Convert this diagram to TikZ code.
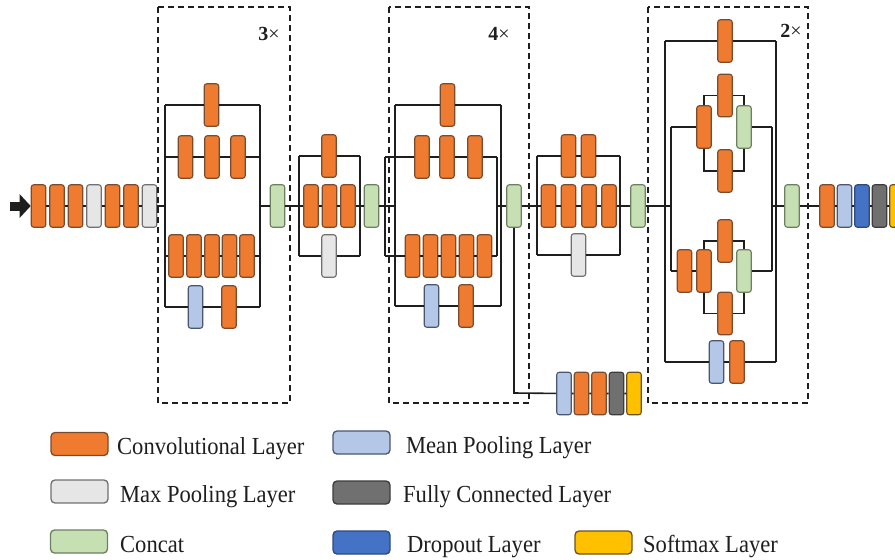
\documentclass[tikz,border=0pt]{standalone}
\usepackage{fontspec}
\setmainfont{Liberation Serif}
\newfontfamily\legendfont[FakeStretch=0.92]{Liberation Serif}
\usetikzlibrary{arrows.meta}

% layer colours: fill / outline
\definecolor{convF}{HTML}{EE7B30}\definecolor{convD}{HTML}{7A4B2C}
\definecolor{maxF}{HTML}{E6E6E6}\definecolor{maxD}{HTML}{707070}
\definecolor{catF}{HTML}{C6E0B4}\definecolor{catD}{HTML}{6C8060}
\definecolor{meanF}{HTML}{B4C7E7}\definecolor{meanD}{HTML}{4A5670}
\definecolor{fcF}{HTML}{707070}\definecolor{fcD}{HTML}{3C3C3C}
\definecolor{dropF}{HTML}{4472C4}\definecolor{dropD}{HTML}{2F4A7A}
\definecolor{softF}{HTML}{FFC000}\definecolor{softD}{HTML}{6A5220}
\definecolor{ink}{HTML}{1E1E1E}

% repetition count: bold digit, light times sign
\newcommand{\reps}[1]{\textbf{#1}×}

\begin{document}
\begin{tikzpicture}[x=1pt,y=-1pt,
  lay/.style={rectangle, rounded corners=2.5pt, minimum width=14.5pt,
    minimum height=42.5pt, inner sep=0pt, line width=1.1pt},
  Lconv/.style={lay, fill=convF, draw=convD},
  Lmax/.style={lay, fill=maxF, draw=maxD},
  Lcat/.style={lay, fill=catF, draw=catD},
  Lmean/.style={lay, fill=meanF, draw=meanD},
  Lfc/.style={lay, fill=fcF, draw=fcD},
  Ldrop/.style={lay, fill=dropF, draw=dropD},
  Lsoft/.style={lay, fill=softF, draw=softD},
  wire/.style={draw=ink, line width=1.6pt},
  grp/.style={draw=ink, line width=1.8pt, dash pattern=on 6pt off 4pt},
  mult/.style={inner sep=0pt, text=ink, font=\fontsize{20}{22}\selectfont},
  key/.style={rectangle, rounded corners=4pt, minimum width=57pt,
    minimum height=23pt, inner sep=0pt, line width=1.3pt},
  keytext/.style={anchor=base west, inner sep=0pt, text=ink,
    font=\legendfont\fontsize{24.5}{28}\selectfont}
]
\useasboundingbox (0,0) rectangle (895,560);

% ---------- stem ----------
\coordinate (inp) at (10,206);
\node[Lconv] (s1) at (38.5,206) {};
\node[Lconv] (s2) at (57,206) {};
\node[Lconv] (s3) at (75.5,206) {};
\node[Lmax]  (s4) at (94,206) {};
\node[Lconv] (s5) at (112.5,206) {};
\node[Lconv] (s6) at (131,206) {};
\node[Lmax]  (s7) at (149.5,206) {};

% ---------- module A (x3) ----------
\draw[grp] (158,7) rectangle (290,403);
\node[mult] (r1) at (269,34) {\reps{3}};
\coordinate (b1tl) at (165,105); \coordinate (b1tr) at (260,105);
\coordinate (b1bl) at (165,307); \coordinate (b1br) at (260,307);
\coordinate (b1l2) at (165,157); \coordinate (b1r2) at (260,157);
\coordinate (b1l3) at (165,256); \coordinate (b1r3) at (260,256);
\coordinate (b1in) at (165,206); \coordinate (b1out) at (260,206);
\node[Lconv] (b1a) at (211.5,105) {};
\node[Lconv] (b1b1) at (185.5,157) {};
\node[Lconv] (b1b2) at (212,157) {};
\node[Lconv] (b1b3) at (238,157) {};
\node[Lconv] (b1c1) at (176,256) {};
\node[Lconv] (b1c2) at (194,256) {};
\node[Lconv] (b1c3) at (212,256) {};
\node[Lconv] (b1c4) at (229.5,256) {};
\node[Lconv] (b1c5) at (247,256) {};
\node[Lmean] (b1d1) at (195.5,307) {};
\node[Lconv] (b1d2) at (229,307) {};
\node[Lcat]  (b1cat) at (277.5,206) {};

% ---------- reduction block ----------
\coordinate (mtl) at (299,156); \coordinate (mtr) at (360,156);
\coordinate (mbl) at (299,256); \coordinate (mbr) at (360,256);
\node[Lconv] (mA) at (329,156) {};
\node[Lconv] (mB1) at (311,206) {};
\node[Lconv] (mB2) at (329.5,206) {};
\node[Lconv] (mB3) at (348,206) {};
\node[Lmax]  (mC) at (329,256) {};
\node[Lcat]  (mcat) at (371.5,206) {};

% ---------- module B (x4) ----------
\draw[grp] (389,7) rectangle (529,403);
\node[mult] (r2) at (499,34) {\reps{4}};
\coordinate (b2tl) at (395,105); \coordinate (b2tr) at (501,105);
\coordinate (b2bl) at (395,306); \coordinate (b2br) at (501,306);
\coordinate (b2il) at (385,157); \coordinate (b2ir) at (497,157);
\coordinate (b2jl) at (385,256); \coordinate (b2jr) at (497,256);
\coordinate (b2in) at (395,206); \coordinate (b2out) at (497,206);
\node[Lconv] (b2a) at (447.5,105) {};
\node[Lconv] (b2b1) at (422,157) {};
\node[Lconv] (b2b2) at (447,157) {};
\node[Lconv] (b2b3) at (475,157) {};
\node[Lconv] (b2c1) at (412.5,256) {};
\node[Lconv] (b2c2) at (430.5,256) {};
\node[Lconv] (b2c3) at (448.5,256) {};
\node[Lconv] (b2c4) at (466.5,256) {};
\node[Lconv] (b2c5) at (484.5,256) {};
\node[Lmean] (b2d1) at (431.5,306) {};
\node[Lconv] (b2d2) at (466,306) {};
\node[Lcat]  (b2cat) at (514,206) {};

% auxiliary classifier
\coordinate (auxc) at (514,393);
\node[Lmean] (a1) at (564,393.5) {};
\node[Lconv] (a2) at (581.5,393.5) {};
\node[Lconv] (a3) at (599,393.5) {};
\node[Lfc]   (a4) at (616.5,393.5) {};
\node[Lsoft] (a5) at (634,393.5) {};

% ---------- second reduction block ----------
\coordinate (c3tl) at (537,156); \coordinate (c3tr) at (620,156);
\coordinate (c3bl) at (537,255); \coordinate (c3br) at (620,255);
\node[Lconv] (c1) at (568.5,156) {};
\node[Lconv] (c2) at (588.5,156) {};
\node[Lconv] (d1) at (548.5,206) {};
\node[Lconv] (d2) at (568.5,206) {};
\node[Lconv] (d3) at (589,206) {};
\node[Lconv] (d4) at (609,206) {};
\node[Lmax]  (e1) at (578.5,255) {};
\node[Lcat]  (b3cat) at (638,206) {};

% ---------- module C (x2) ----------
\draw[grp] (648,7) rectangle (808,403);
\node[mult] (r3) at (791,31) {\reps{2}};
\coordinate (b4tl) at (665,41);  \coordinate (b4tr) at (776,41);
\coordinate (b4bl) at (665,362); \coordinate (b4br) at (776,362);
\coordinate (b4in) at (671,206); \coordinate (b4out) at (772,206);
\coordinate (u0) at (671,127);   \coordinate (u5) at (772,127);
\coordinate (l0) at (671,271);   \coordinate (l5) at (772,271);
\coordinate (gUL) at (704,95.5); \coordinate (gUR) at (744,95.5);
\coordinate (gLL) at (704,171);  \coordinate (gLR) at (744,171);
\coordinate (hUL) at (704,241);  \coordinate (hUR) at (744,241);
\coordinate (hLL) at (704,313.5);\coordinate (hLR) at (744,313.5);
\node[Lconv] (f1) at (725,41) {};
\node[Lconv] (g1) at (704,127) {};
\node[Lconv] (g2) at (725,95.5) {};
\node[Lconv] (g3) at (725,171) {};
\node[Lcat]  (g4) at (744,127) {};
\node[Lconv] (h0) at (684.5,271) {};
\node[Lconv] (h1) at (704,271) {};
\node[Lconv] (h2) at (725,241) {};
\node[Lconv] (h3) at (725,313.5) {};
\node[Lcat]  (h4) at (744,271) {};
\node[Lmean] (k1) at (716.5,362) {};
\node[Lconv] (k2) at (737,362) {};
\node[Lcat]  (b4cat) at (792,206) {};

% ---------- head ----------
\node[Lconv] (t1) at (827,206) {};
\node[Lmean] (t2) at (844.5,206) {};
\node[Ldrop] (t3) at (862,206) {};
\node[Lfc]   (t4) at (879.5,206) {};
\node[Lsoft] (t5) at (897,206) {};

% ---------- connections ----------
\draw[ink, line width=9pt, -{Triangle[length=11pt,width=23pt]}] (inp) -- (s1);
\draw[wire] (s1) -- (s2) -- (s3) -- (s4) -- (s5) -- (s6) -- (s7) -- (b1in);

\draw[wire] (b1tl) -- (b1a) -- (b1tr);
\draw[wire] (b1tl) -- (b1bl);
\draw[wire] (b1tr) -- (b1br);
\draw[wire] (b1bl) -- (b1d1) -- (b1d2) -- (b1br);
\draw[wire] (b1l2) -- (b1b1) -- (b1b2) -- (b1b3) -- (b1r2);
\draw[wire] (b1l3) -- (b1c1) -- (b1c2) -- (b1c3) -- (b1c4) -- (b1c5) -- (b1r3);
\draw[wire] (b1out) -- (b1cat);

\draw[wire] (mtl) -- (mA) -- (mtr);
\draw[wire] (mbl) -- (mC) -- (mbr);
\draw[wire] (mtl) -- (mbl);
\draw[wire] (mtr) -- (mbr);
\draw[wire] (b1cat) -- (mB1) -- (mB2) -- (mB3) -- (mcat);

\draw[wire] (mcat) -- (b2in);
\draw[wire] (b2tl) -- (b2a) -- (b2tr);
\draw[wire] (b2tl) -- (b2bl);
\draw[wire] (b2tr) -- (b2br);
\draw[wire] (b2bl) -- (b2d1) -- (b2d2) -- (b2br);
\draw[wire] (b2il) -- (b2b1) -- (b2b2) -- (b2b3) -- (b2ir);
\draw[wire] (b2jl) -- (b2c1) -- (b2c2) -- (b2c3) -- (b2c4) -- (b2c5) -- (b2jr);
\draw[wire] (b2il) -- (b2jl);
\draw[wire] (b2ir) -- (b2jr);
\draw[wire] (b2out) -- (b2cat);
\draw[wire] (b2cat) -- (auxc) -- (a1) -- (a2) -- (a3) -- (a4) -- (a5);

\draw[wire] (c3tl) -- (c1) -- (c2) -- (c3tr);
\draw[wire] (c3bl) -- (e1) -- (c3br);
\draw[wire] (c3tl) -- (c3bl);
\draw[wire] (c3tr) -- (c3br);
\draw[wire] (b2cat) -- (d1) -- (d2) -- (d3) -- (d4) -- (b3cat);

\draw[wire] (b3cat) -- (b4in);
\draw[wire] (b4tl) -- (f1) -- (b4tr);
\draw[wire] (b4tl) -- (b4bl);
\draw[wire] (b4tr) -- (b4br);
\draw[wire] (b4bl) -- (k1) -- (k2) -- (b4br);
\draw[wire] (u0) -- (l0);
\draw[wire] (u5) -- (l5);
\draw[wire] (u0) -- (g1);
\draw[wire] (g1) -- (gUL) -- (g2) -- (gUR) -- (g4);
\draw[wire] (g1) -- (gLL) -- (g3) -- (gLR) -- (g4);
\draw[wire] (g4) -- (u5);
\draw[wire] (l0) -- (h0) -- (h1);
\draw[wire] (h1) -- (hUL) -- (h2) -- (hUR) -- (h4);
\draw[wire] (h1) -- (hLL) -- (h3) -- (hLR) -- (h4);
\draw[wire] (h4) -- (l5);
\draw[wire] (b4out) -- (b4cat);
\draw[wire] (b4cat) -- (t1) -- (t2) -- (t3) -- (t4) -- (t5);

% ---------- legend ----------
\node[key, fill=convF, draw=convD] (kconv) at (79.5,444) {};
\node[keytext] (tconv) at (117,454) {Convolutional Layer};
\node[key, fill=maxF, draw=maxD] (kmax) at (79.5,491.5) {};
\node[keytext] (tmax) at (120,502) {Max Pooling Layer};
\node[key, fill=catF, draw=catD] (kcat) at (79,541.5) {};
\node[keytext] (tcat) at (120,552) {Concat};
\node[key, fill=meanF, draw=meanD] (kmean) at (361.5,442.5) {};
\node[keytext] (tmean) at (406,453) {Mean Pooling Layer};
\node[key, fill=fcF, draw=fcD] (kfc) at (361.5,492.5) {};
\node[keytext] (tfc) at (403,502) {Fully Connected Layer};
\node[key, fill=dropF, draw=dropD] (kdrop) at (361.5,542.5) {};
\node[keytext] (tdrop) at (407,552) {Dropout Layer};
\node[key, fill=softF, draw=softD] (ksoft) at (603.5,542.5) {};
\node[keytext] (tsoft) at (643,552) {Softmax Layer};
\end{tikzpicture}
\end{document}
